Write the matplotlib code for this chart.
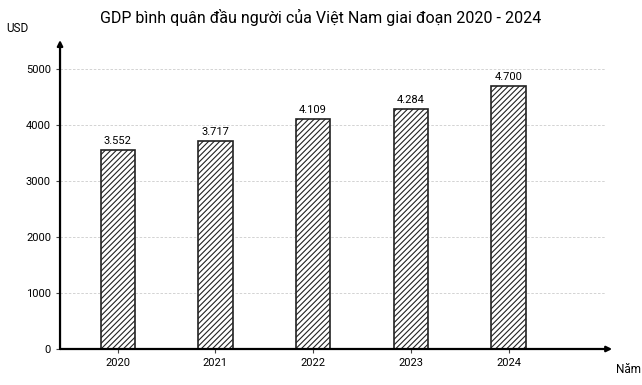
import matplotlib.pyplot as plt

years = ["2020", "2021", "2022", "2023", "2024"]
gdp = [3552, 3717, 4109, 4284, 4700]
value_labels = ["3.552", "3.717", "4.109", "4.284", "4.700"]
yticks = [0, 1000, 2000, 3000, 4000, 5000]

plt.rcParams['font.family'] = ['Roboto', 'DejaVu Sans']
plt.rcParams['hatch.linewidth'] = 0.8

fig = plt.figure(figsize=(6.42, 3.85), dpi=100)
ax = fig.add_axes([0.0935, 0.0935, 0.86, 0.8025])

x = range(len(years))
bars = ax.bar(x, gdp, width=0.35, color="white", edgecolor="#222222",
              linewidth=1.2, hatch="//////", zorder=3)
for xi, v, lab in zip(x, gdp, value_labels):
    ax.text(xi, v + 70, lab, ha="center", va="bottom", fontsize=8)

ax.set_xlim(-0.59, 5.06)
ax.set_ylim(0, 5520)
ax.set_xticks(list(x))
ax.set_xticklabels(years, fontsize=8)
ax.set_yticks(yticks)
ax.set_yticklabels([str(t) for t in yticks], fontsize=8)
ax.tick_params(axis="both", length=3, width=0.8, color="#444444")

for t in yticks[1:]:
    ax.plot([-0.59, 4.99], [t, t], color="#cccccc", linestyle=(0, (3, 2)),
            linewidth=0.6, zorder=1)

for s in ax.spines.values():
    s.set_visible(False)

# axes drawn as arrows
ax.annotate("", xy=(-0.59, 5520), xytext=(-0.59, 0),
            arrowprops=dict(arrowstyle="-|>", color="black", lw=1.6,
                            mutation_scale=8, shrinkA=0, shrinkB=0),
            annotation_clip=False)
ax.annotate("", xy=(5.06, 0), xytext=(-0.59, 0),
            arrowprops=dict(arrowstyle="-|>", color="black", lw=1.6,
                            mutation_scale=8, shrinkA=0, shrinkB=0),
            annotation_clip=False)

fig.text(0.5, 0.955, "GDP bình quân đầu người của Việt Nam giai đoạn 2020 - 2024",
         ha="center", va="center", fontsize=11.5)
fig.text(0.01, 0.925, "USD", ha="left", va="center", fontsize=8.5)
fig.text(0.96, 0.04, "Năm", ha="left", va="center", fontsize=8.5)

fig.savefig("out.png", dpi=100)
